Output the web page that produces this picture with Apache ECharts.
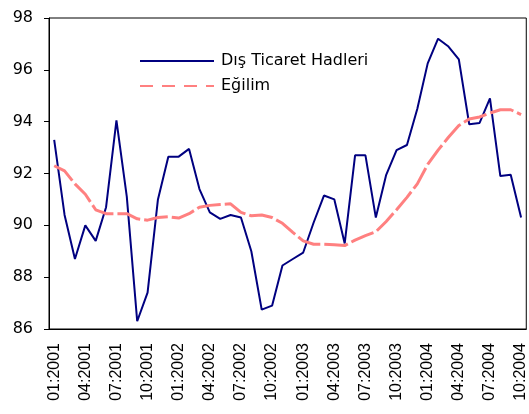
<!DOCTYPE html>
<html>
<head>
<meta charset="utf-8">
<script src="https://cdn.jsdelivr.net/npm/echarts@6/dist/echarts.min.js"></script>
<style>
  html, body { margin: 0; padding: 0; background: #fff; }
  #chart { width: 529px; height: 414px; }
</style>
</head>
<body>
<div id="chart"></div>
<script>
// aylar (01:2001 - 10:2004)
const months = [
  '01:2001', '02:2001', '03:2001', '04:2001', '05:2001', '06:2001',
  '07:2001', '08:2001', '09:2001', '10:2001', '11:2001', '12:2001',
  '01:2002', '02:2002', '03:2002', '04:2002', '05:2002', '06:2002',
  '07:2002', '08:2002', '09:2002', '10:2002', '11:2002', '12:2002',
  '01:2003', '02:2003', '03:2003', '04:2003', '05:2003', '06:2003',
  '07:2003', '08:2003', '09:2003', '10:2003', '11:2003', '12:2003',
  '01:2004', '02:2004', '03:2004', '04:2004', '05:2004', '06:2004',
  '07:2004', '08:2004', '09:2004', '10:2004'
];

// Dış Ticaret Hadleri
const hadler = [
  93.3, 90.4, 88.7, 90.0, 89.4, 90.7, 94.05, 91.1, 86.3, 87.4, 91.0, 92.65,
  92.65, 92.95, 91.4, 90.5, 90.25, 90.4, 90.3, 89.0, 86.75, 86.9, 88.45, 88.7,
  88.95, 90.1, 91.15, 91.0, 89.3, 92.7, 92.7, 90.3, 91.95, 92.9, 93.1, 94.5,
  96.25, 97.2, 96.9, 96.4, 93.9, 93.95, 94.9, 91.9, 91.95, 90.3
];

// Eğilim
const egilim = [
  92.3, 92.1, 91.6, 91.2, 90.6, 90.45, 90.45, 90.45, 90.25, 90.2, 90.3, 90.33,
  90.28, 90.45, 90.7, 90.77, 90.8, 90.83, 90.5, 90.37, 90.4, 90.3, 90.08, 89.73,
  89.4, 89.27, 89.27, 89.25, 89.22, 89.43, 89.6, 89.75, 90.15, 90.6, 91.08, 91.6,
  92.35, 92.9, 93.4, 93.85, 94.1, 94.18, 94.33, 94.46, 94.46, 94.27
];

const yTicks = [86, 88, 90, 92, 94, 96, 98];

const chart = echarts.init(document.getElementById('chart'), null, { renderer: 'canvas' });

chart.setOption({
  animation: false,
  backgroundColor: '#fff',
  grid: {
    left: 49,
    top: 18,
    width: 485,
    height: 311,
    show: true,
    borderColor: '#000',
    borderWidth: 1,
    containLabel: false
  },
  legend: {
    orient: 'vertical',
    left: 139,
    top: 53,
    padding: 0,
    itemWidth: 74,
    itemHeight: 14,
    itemGap: 9,
    itemStyle: { opacity: 0 },
    textStyle: {
      fontFamily: 'DejaVu Sans',
      fontSize: 16,
      lineHeight: 16,
      color: '#000',
      padding: [0, 0, 0, 2]
    },
    data: [
      { name: 'Dış Ticaret Hadleri' },
      { name: 'Eğilim', lineStyle: { type: [13, 9] } }
    ]
  },
  xAxis: {
    type: 'category',
    data: months,
    boundaryGap: true,
    axisLine: { lineStyle: { color: '#000', width: 1 } },
    axisTick: { interval: 2, length: 5, lineStyle: { color: '#000' } },
    axisLabel: {
      interval: 2,
      rotate: 90,
      margin: 14,
      color: '#000',
      fontFamily: 'Liberation Sans',
      fontSize: 16,
      padding: [0, 0, 8, 0]
    },
    splitLine: { show: false }
  },
  yAxis: {
    type: 'value',
    min: yTicks[0],
    max: yTicks[yTicks.length - 1],
    interval: 2,
    axisLine: { show: true, lineStyle: { color: '#000', width: 1 } },
    axisTick: { show: true, length: 5, lineStyle: { color: '#000' } },
    axisLabel: {
      margin: 16,
      color: '#000',
      fontFamily: 'DejaVu Sans',
      fontSize: 16
    },
    splitLine: { show: false }
  },
  series: [
    {
      name: 'Dış Ticaret Hadleri',
      type: 'line',
      data: hadler,
      symbol: 'none',
      color: '#000080',
      lineStyle: { color: '#000080', width: 2 }
    },
    {
      name: 'Eğilim',
      type: 'line',
      data: egilim,
      symbol: 'none',
      color: '#ff8080',
      lineStyle: { color: '#ff8080', width: 3, type: [24, 4] }
    }
  ]
});
</script>
</body>
</html>
